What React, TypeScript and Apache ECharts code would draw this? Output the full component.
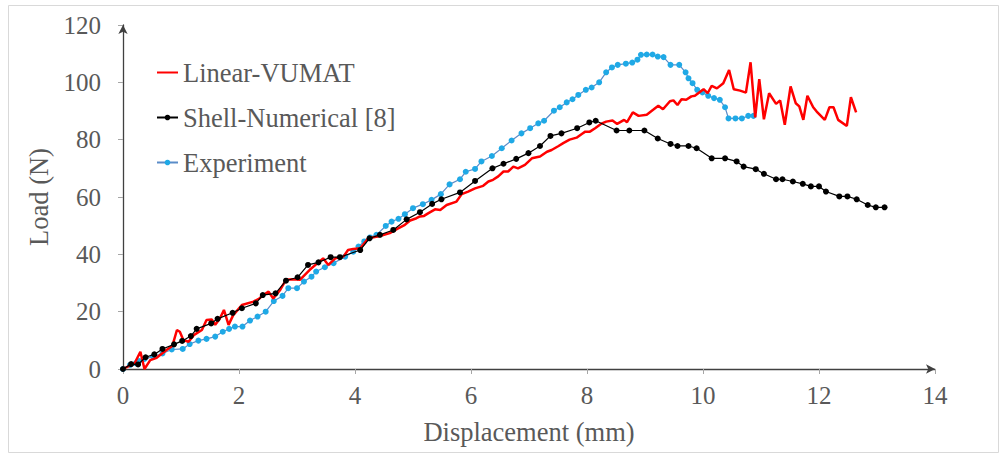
import React, { useEffect, useRef } from "react";
import * as echarts from "echarts";

const xTicks = { min: 0, max: 14, interval: 2 };
const yTicks = { min: 0, max: 120, interval: 20 };

const seriesNames = ["Linear-VUMAT", "Shell-Numerical [8]", "Experiment"];

const linearVumat: [number, number][] = [
  [0, 0], [0.1, 1], [0.2, 2], [0.3, 6], [0.37, 0], [0.47, 3.1], [0.58, 3.9], [0.75, 6.6], [0.85, 8],
  [0.93, 13.6], [0.98, 13], [1.04, 10.1], [1.13, 9.5], [1.22, 11.8], [1.36, 13.6], [1.44, 17.1],
  [1.53, 17.3], [1.59, 15.4], [1.67, 17.6], [1.74, 20.6], [1.82, 15.4], [1.9, 18.8], [2.05, 22.3],
  [2.25, 23.5], [2.35, 24.6], [2.42, 25.8], [2.51, 27], [2.59, 24.6], [2.71, 27.6], [2.81, 31.1],
  [2.93, 31.3], [3.05, 31.1], [3.22, 34.6], [3.45, 38.6], [3.54, 36.3], [3.66, 38.6], [3.8, 39.2],
  [3.88, 41.5], [3.97, 41.9], [4.09, 42.1], [4.14, 43.3], [4.23, 45.6], [4.43, 46.4], [4.6, 47.4],
  [4.72, 48.8], [4.86, 50.3], [4.95, 51.8], [5.06, 52.6], [5.12, 53.2], [5.19, 53.4], [5.26, 54.3],
  [5.38, 55.7], [5.47, 55.5], [5.58, 57.2], [5.75, 58.4], [5.84, 61], [5.95, 61.9], [6.07, 63],
  [6.21, 63.9], [6.3, 65.4], [6.38, 66], [6.47, 67.2], [6.56, 68.9], [6.64, 68.9], [6.73, 70.6],
  [6.81, 70], [6.93, 71.2], [7.05, 73.5], [7.19, 74.1], [7.31, 75.8], [7.39, 76.4], [7.51, 77.8],
  [7.59, 78.8], [7.7, 80], [7.82, 80.7], [7.91, 82], [7.97, 82.8], [8.05, 82.8], [8.14, 84],
  [8.24, 85.5], [8.33, 86.3], [8.44, 86.7], [8.52, 85.5], [8.64, 86.9], [8.69, 86.1], [8.79, 89.5],
  [8.89, 88.3], [9.03, 88.7], [9.14, 90.4], [9.23, 91.8], [9.31, 90.6], [9.43, 93.4], [9.49, 93.7],
  [9.56, 92.1], [9.63, 94.1], [9.71, 93.9], [9.8, 95.1], [9.86, 95.3], [10.01, 97.6], [10.08, 96.2],
  [10.15, 98.8], [10.24, 97.9], [10.35, 99.7], [10.45, 104.3], [10.53, 97.6], [10.64, 97.1],
  [10.74, 96.4], [10.82, 107], [10.9, 87.8], [10.97, 101.1], [11.05, 87.1], [11.14, 96.2],
  [11.26, 92.5], [11.33, 93.7], [11.41, 85.2], [11.51, 98.6], [11.6, 92.7], [11.66, 91.6],
  [11.73, 86.9], [11.8, 95.3], [11.9, 91.3], [11.96, 89.8], [12.1, 86.9], [12.18, 91.3],
  [12.25, 91.3], [12.33, 86.9], [12.48, 84.8], [12.55, 94.8], [12.64, 89.5],
];

const shellNumerical: [number, number][] = [
  [0, 0], [0.14, 1.7], [0.26, 1.6], [0.39, 4.1], [0.54, 5.1], [0.68, 7], [0.88, 8.6], [1.02, 9.8],
  [1.17, 11.5], [1.27, 14], [1.52, 15.9], [1.63, 17.5], [1.89, 19.6], [2.05, 21.2], [2.29, 22.9],
  [2.41, 25.8], [2.63, 26.4], [2.81, 30.8], [3.01, 32], [3.19, 36.3], [3.37, 37.2], [3.58, 39],
  [3.74, 39], [4.09, 41.5], [4.25, 45.6], [4.43, 46.8], [4.66, 48.5], [4.89, 52.2], [5.12, 54.7],
  [5.33, 57.6], [5.49, 59.2], [5.81, 61.6], [6.07, 65.6], [6.37, 70], [6.56, 71.6], [6.78, 73.3],
  [6.99, 75.3], [7.19, 77.8], [7.37, 81.3], [7.56, 82.2], [7.83, 84], [8.04, 86], [8.15, 86.6],
  [8.51, 83.2], [8.73, 83.2], [8.99, 83.2], [9.22, 80.4], [9.44, 78.5], [9.56, 77.8], [9.75, 77.8],
  [9.89, 77], [10.15, 73.5], [10.38, 73.5], [10.58, 72.4], [10.7, 70.6], [10.91, 69.7], [11.05, 68.1],
  [11.26, 66.2], [11.37, 66.2], [11.55, 65.4], [11.72, 64.6], [11.86, 63.7], [12.0, 63.7],
  [12.12, 61.9], [12.35, 60.2], [12.49, 60.2], [12.65, 59.2], [12.84, 57.2], [12.98, 56.4],
  [13.13, 56.4],
];

const experiment: [number, number][] = [
  [0, 0], [0.12, 1.4], [0.22, 2], [0.28, 2.8], [0.37, 3.5], [0.52, 4.3], [0.68, 5.4], [0.84, 6.8],
  [1.03, 7], [1.15, 8.7], [1.3, 9.9], [1.44, 10.5], [1.59, 11.3], [1.72, 13], [1.83, 14],
  [1.93, 14.8], [2.06, 14.8], [2.19, 16.9], [2.32, 18.3], [2.46, 20], [2.6, 23.7], [2.75, 25.5],
  [2.85, 28.2], [3.0, 28.2], [3.12, 30.5], [3.25, 32.2], [3.33, 34], [3.48, 35.5], [3.63, 36.9],
  [3.83, 39.2], [3.97, 40.9], [4.06, 42.7], [4.16, 44.5], [4.26, 45.9], [4.37, 46.8], [4.53, 49.9],
  [4.63, 51.4], [4.75, 52.4], [4.86, 54], [5.0, 56.1], [5.17, 57.5], [5.32, 59], [5.48, 61],
  [5.63, 64.4], [5.81, 66.2], [5.91, 68.8], [6.07, 69.8], [6.18, 72.4], [6.36, 74.3], [6.53, 77],
  [6.7, 79.7], [6.87, 82.2], [7.02, 84], [7.16, 85.7], [7.26, 86.6], [7.43, 90.1], [7.53, 91.3],
  [7.65, 93], [7.75, 94.1], [7.85, 95.6], [7.98, 97.4], [8.08, 98.2], [8.21, 100], [8.33, 103.5],
  [8.43, 105.2], [8.53, 106.1], [8.67, 106.5], [8.78, 106.9], [8.87, 107.9], [8.93, 109.6],
  [9.03, 109.7], [9.13, 109.7], [9.22, 109], [9.32, 108.8], [9.44, 106.1], [9.59, 106.1],
  [9.7, 103.5], [9.75, 101.4], [9.82, 99.7], [9.9, 97.4], [9.99, 96.5], [10.09, 95.3],
  [10.19, 94.5], [10.29, 93.9], [10.38, 91.3], [10.44, 87.4], [10.56, 87.4], [10.67, 87.4],
  [10.78, 88.3], [10.87, 88.3],
];

const FONT = "'Liberation Serif', 'Times New Roman', serif";
const TEXT = "#595959";

export default function App() {
  const ref = useRef<HTMLDivElement>(null);
  useEffect(() => {
    if (!ref.current) return;
    const chart = echarts.init(ref.current, undefined, { renderer: "svg" });
    chart.setOption({
      animation: false,
      backgroundColor: "#ffffff",
      textStyle: { fontFamily: FONT },
      graphic: [
        {
          type: "rect",
          shape: { x: 8.5, y: 5.5, width: 990, height: 447 },
          style: { fill: "none", stroke: "#d9d9d9", lineWidth: 1 },
          silent: true,
        },
      ],
      grid: { left: 123, right: 70, top: 25, bottom: 87, containLabel: false },
      legend: {
        orient: "vertical",
        left: 156,
        top: 59,
        itemWidth: 21,
        itemHeight: 7,
        itemGap: 18,
        padding: 0,
        textStyle: { fontFamily: FONT, fontSize: 26.5, color: TEXT },
        data: [
          { name: seriesNames[0], itemStyle: { opacity: 0 } },
          { name: seriesNames[1] },
          { name: seriesNames[2] },
        ],
      },
      xAxis: {
        type: "value",
        min: xTicks.min,
        max: xTicks.max,
        interval: xTicks.interval,
        name: "Displacement (mm)",
        nameLocation: "middle",
        nameGap: 49,
        nameTextStyle: { fontFamily: FONT, fontSize: 26.5, color: TEXT },
        axisLine: {
          show: true,
          symbol: ["none", "arrow"],
          symbolSize: [7, 9],
          lineStyle: { color: "#404040", width: 1.3 },
        },
        axisTick: { show: true, length: 5, lineStyle: { color: "#a6a6a6" } },
        axisLabel: { fontFamily: FONT, fontSize: 25, color: TEXT, margin: 14 },
        splitLine: { show: false },
      },
      yAxis: {
        type: "value",
        min: yTicks.min,
        max: yTicks.max,
        interval: yTicks.interval,
        name: "Load (N)",
        nameLocation: "middle",
        nameGap: 60,
        nameRotate: 90,
        nameTextStyle: { fontFamily: FONT, fontSize: 26.5, color: TEXT },
        axisLine: {
          show: true,
          symbol: ["none", "arrow"],
          symbolSize: [7, 9],
          lineStyle: { color: "#404040", width: 1.3 },
        },
        axisTick: { show: true, length: 5, lineStyle: { color: "#a6a6a6" } },
        axisLabel: { fontFamily: FONT, fontSize: 25, color: TEXT, margin: 22 },
        splitLine: { show: false },
      },
      series: [
        {
          name: seriesNames[0],
          type: "line",
          data: linearVumat,
          symbol: "none",
          lineStyle: { color: "#ff0000", width: 2.5 },
          itemStyle: { color: "#ff0000" },
          z: 3,
        },
        {
          name: seriesNames[1],
          type: "line",
          data: shellNumerical,
          symbol: "circle",
          symbolSize: 6,
          lineStyle: { color: "#000000", width: 1.2 },
          itemStyle: { color: "#000000" },
          z: 4,
        },
        {
          name: seriesNames[2],
          type: "line",
          data: experiment,
          symbol: "circle",
          symbolSize: 6,
          lineStyle: { color: "#5b8cc8", width: 1.2 },
          itemStyle: { color: "#1fa9e6" },
          z: 2,
        },
      ],
    });
    return () => chart.dispose();
  }, []);
  return (
    <div
      ref={ref}
      style={{ position: "fixed", left: 0, top: 0, width: 1005, height: 456 }}
    />
  );
}
